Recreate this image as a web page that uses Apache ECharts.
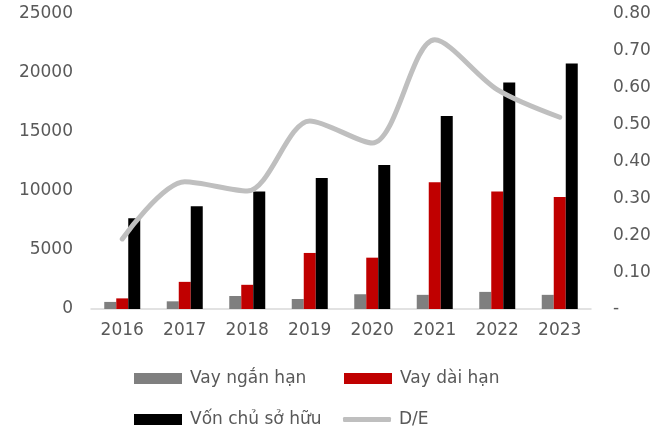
<!DOCTYPE html>
<html>
<head>
<meta charset="utf-8">
<script src="https://cdn.jsdelivr.net/npm/echarts@6/dist/echarts.min.js"></script>
<style>
  html, body { margin: 0; padding: 0; background: #fff; }
  #chart { width: 670px; height: 429px; }
</style>
</head>
<body>
<div id="chart"></div>
<script>
const years = ['2016', '2017', '2018', '2019', '2020', '2021', '2022', '2023'];
const vayNganHan = [600, 650, 1100, 850, 1250, 1200, 1450, 1200];
const vayDaiHan = [900, 2300, 2050, 4750, 4350, 10750, 9950, 9500];
const vonChuSoHuu = [7700, 8700, 9950, 11100, 12200, 16350, 19200, 20800];
const deRatio = [0.19, 0.345, 0.32, 0.51, 0.45, 0.73, 0.595, 0.52];

const FONT = 'DejaVu Sans';
const TXT = '#595959';
const FS = 17;

const chart = echarts.init(document.getElementById('chart'));

const legendItem = (name, left, top, icon, h) => ({
  data: [{ name: name, icon: icon }],
  left: left,
  top: top,
  itemWidth: 48,
  itemHeight: h,
  padding: 0,
  textStyle: { color: TXT, fontFamily: FONT, fontSize: FS, padding: [0, 0, 0, 3] }
});

let option = {
  animation: false,
  textStyle: { fontFamily: FONT },
  grid: { left: 91, right: 79, top: 14, bottom: 120 },
  legend: [
    legendItem('Vay ngắn hạn', 134, 370, 'rect', 11),
    legendItem('Vay dài hạn', 344, 370, 'rect', 11),
    legendItem('Vốn chủ sở hữu', 134, 411, 'rect', 11),
    legendItem('D/E', 343, 411, 'roundRect', 5)
  ],
  xAxis: {
    type: 'category',
    data: years,
    axisTick: { show: false },
    axisLine: { lineStyle: { color: '#D9D9D9', width: 1.5 } },
    axisLabel: { color: TXT, fontSize: FS, margin: 13 }
  },
  yAxis: [
    {
      type: 'value',
      min: 0,
      max: 25000,
      interval: 5000,
      splitLine: { show: false },
      axisLabel: { color: TXT, fontSize: FS, margin: 18, formatter: (v) => String(v) }
    },
    {
      type: 'value',
      min: 0,
      max: 0.8,
      interval: 0.1,
      splitLine: { show: false },
      axisLabel: {
        color: TXT,
        fontSize: FS,
        margin: 22,
        formatter: (v) => v === 0 ? '-' : v.toFixed(2)
      }
    }
  ],
  series: [
    {
      name: 'Vay ngắn hạn',
      type: 'bar',
      data: vayNganHan,
      barWidth: 12,
      barGap: '0%',
      itemStyle: { color: '#7F7F7F' }
    },
    {
      name: 'Vay dài hạn',
      type: 'bar',
      data: vayDaiHan,
      barWidth: 12,
      barGap: '0%',
      itemStyle: { color: '#C00000' }
    },
    {
      name: 'Vốn chủ sở hữu',
      type: 'bar',
      data: vonChuSoHuu,
      barWidth: 12,
      barGap: '0%',
      itemStyle: { color: '#000000' }
    },
    {
      name: 'D/E',
      type: 'line',
      yAxisIndex: 1,
      data: deRatio,
      smooth: 0.3,
      symbol: 'none',
      itemStyle: { color: '#BFBFBF' },
      lineStyle: { color: '#BFBFBF', width: 5, cap: 'round' },
      z: 5
    }
  ]
};
chart.setOption(option);
</script>
</body>
</html>
